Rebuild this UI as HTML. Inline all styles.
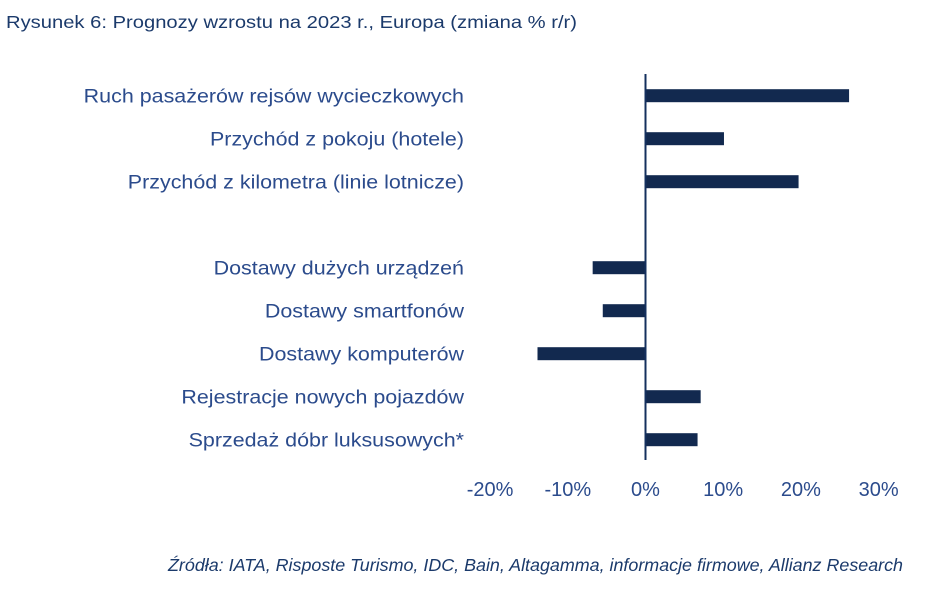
<!DOCTYPE html>
<html><head><meta charset="utf-8"><style>
body{margin:0;width:934px;height:591px;background:#fff;overflow:hidden;font-family:"Liberation Sans",sans-serif;}
svg text{font-family:"Liberation Sans",sans-serif;}
</style></head><body>
<svg width="934" height="591">
<text x="6" y="28" font-size="17.5" fill="#1b3a6b" textLength="571" lengthAdjust="spacingAndGlyphs">Rysunek 6: Prognozy wzrostu na 2023 r., Europa (zmiana % r/r)</text>
<g id="bars"></g>
<line x1="645.5" y1="74" x2="645.5" y2="460" stroke="#14305e" stroke-width="2"/>
<text x="903" y="571" font-size="17.5" font-style="italic" fill="#1b3a6b" text-anchor="end" textLength="735" lengthAdjust="spacingAndGlyphs">Źródła: IATA, Risposte Turismo, IDC, Bain, Altagamma, informacje firmowe, Allianz Research</text>
</svg>
<script>
const categories=["Ruch pasażerów rejsów wycieczkowych","Przychód z pokoju (hotele)","Przychód z kilometra (linie lotnicze)","","Dostawy dużych urządzeń","Dostawy smartfonów","Dostawy komputerów","Rejestracje nowych pojazdów","Sprzedaż dóbr luksusowych*"];
const values=[26.2,10.1,19.7,null,-6.8,-5.5,-13.9,7.1,6.7];
const ticks=[-20,-10,0,10,20,30];
const tickLabels=["-20%","-10%","0%","10%","20%","30%"];
const NS="http://www.w3.org/2000/svg";
const g=document.getElementById('bars');
const x=v=>645.5+v*7.77;
const y=i=>95.7+i*43;
categories.forEach((c,i)=>{
  if(c){
    const t=document.createElementNS(NS,'text');
    
    
    t.setAttribute('x',464);t.setAttribute('y',y(i)+7);
    t.setAttribute('text-anchor','end');t.setAttribute('font-size','19.5');t.setAttribute('fill','#2b4b8c');
    t.textContent=c;g.appendChild(t);
    const w=t.getComputedTextLength();
    t.setAttribute('textLength',(w*1.1).toFixed(1));
    t.setAttribute('lengthAdjust','spacingAndGlyphs');
  }
  const v=values[i];
  if(v!==null){
    const r=document.createElementNS(NS,'rect');
    
    
    r.setAttribute('x',Math.min(x(0),x(v)));r.setAttribute('y',y(i)-6.5);
    r.setAttribute('width',Math.abs(x(v)-x(0)));r.setAttribute('height',13);
    r.setAttribute('fill','#12294f');g.appendChild(r);
  }
});
ticks.forEach((tv,i)=>{
  const t=document.createElementNS(NS,'text');
  
  
  t.setAttribute('x',x(tv));t.setAttribute('y',496);
  t.setAttribute('text-anchor','middle');t.setAttribute('font-size','20');t.setAttribute('fill','#2b4b8c');
  t.textContent=tickLabels[i];g.appendChild(t);
});
</script>
</body></html>
